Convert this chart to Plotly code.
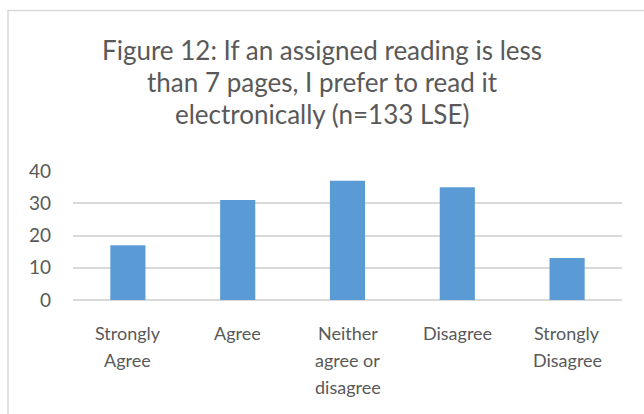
import plotly.graph_objects as go

categories = ["Strongly Agree", "Agree", "Neither agree or disagree", "Disagree", "Strongly Disagree"]
category_lines = [["Strongly", "Agree"], ["Agree"], ["Neither", "agree or", "disagree"],
                  ["Disagree"], ["Strongly", "Disagree"]]
values = [17, 31, 37, 35, 13]
y_ticks = [0, 10, 20, 30, 40]
title_lines = ["Figure 12: If an assigned reading is less",
               "than 7 pages, I prefer to read it",
               "electronically (n=133 LSE)"]

FONT = "Lato"
GRAY = "#595959"

fig = go.Figure(go.Bar(x=categories, y=values, marker_color="#5b9bd5",
                       marker_line_width=0, width=0.32))

W, H = 644, 414
L, R, T, B = 73, 22, 171, 114
pw, ph = W - L - R, H - T - B

def px_x(x):
    return (x - L) / pw

def px_y(y):
    return (H - B - y) / ph

fig.update_layout(
    width=W, height=H,
    margin=dict(l=L, r=R, t=T, b=B),
    paper_bgcolor="white", plot_bgcolor="white",
    showlegend=False,
    font=dict(family=FONT, color=GRAY, size=18),
    xaxis=dict(showgrid=False, showline=False, ticks="", showticklabels=False),
    yaxis=dict(range=[0, 40], tickvals=y_ticks, showgrid=True, gridcolor="#d9d9d9",
               gridwidth=1.5, zeroline=True, zerolinecolor="#d9d9d9", zerolinewidth=1.5,
               showline=False, ticks="", ticklabelstandoff=21, tickfont=dict(size=19, color=GRAY)),
    shapes=[dict(type="rect", xref="paper", yref="paper",
                 x0=px_x(8), x1=px_x(680), y0=px_y(450), y1=px_y(10.5),
                 line=dict(color="#d9d9d9", width=1.5), fillcolor="rgba(0,0,0,0)", layer="below")],
)

for line, yc in zip(title_lines, [50, 82, 114]):
    fig.add_annotation(text=line, xref="paper", yref="paper", x=px_x(322), y=px_y(yc),
                       xanchor="center", yanchor="middle", showarrow=False,
                       font=dict(family=FONT, size=26, color=GRAY))

for cat, lines in zip(categories, category_lines):
    for j, line in enumerate(lines):
        fig.add_annotation(text=line, xref="x", yref="paper", x=cat, y=px_y(333 + 27 * j),
                           xanchor="center", yanchor="middle", showarrow=False,
                           font=dict(family=FONT, size=18, color=GRAY))

fig.write_html("out.html", config={"displayModeBar": False},
               post_script="document.body.style.margin='0';document.body.style.overflow='hidden';")
